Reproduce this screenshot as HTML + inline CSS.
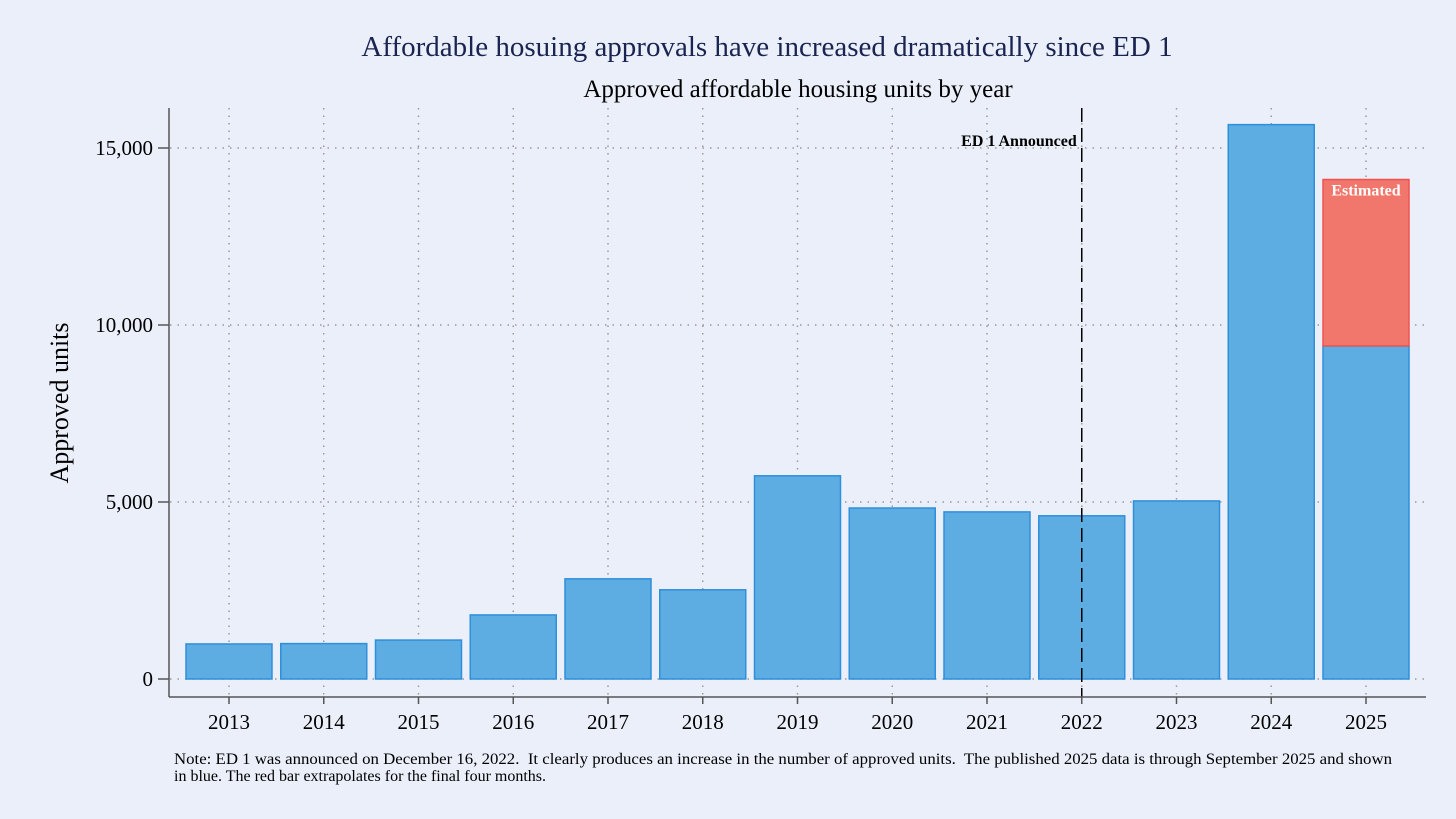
<!DOCTYPE html>
<html><head><meta charset="utf-8">
<style>
body{margin:0;background:#eaeffa;}
svg{display:block;font-family:"Liberation Serif",serif;}
.pre{white-space:pre;}
</style></head>
<body>
<svg id="chart" width="1456" height="819" viewBox="0 0 1456 819" xmlns="http://www.w3.org/2000/svg">
<rect width="1456" height="819" fill="#eaeffa"/>
<text x="767" y="56" text-anchor="middle" font-size="29" fill="#1a2450">Affordable hosuing approvals have increased dramatically since ED 1</text>
<text x="798" y="97" text-anchor="middle" font-size="25" fill="#000">Approved affordable housing units by year</text>
<text transform="translate(68,403) rotate(-90)" text-anchor="middle" font-size="26" fill="#000">Approved units</text>
<g id="grid"></g>
<g id="bars"></g>
<g id="axes"></g>
<text class="pre" x="174" y="764" font-size="16" textLength="1218" lengthAdjust="spacingAndGlyphs" fill="#000">Note: ED 1 was announced on December 16, 2022.  It clearly produces an increase in the number of approved units.  The published 2025 data is through September 2025 and shown</text>
<text class="pre" x="174" y="781" font-size="16" fill="#000">in blue. The red bar extrapolates for the final four months.</text>
</svg>
<script>
const years = ["2013","2014","2015","2016","2017","2018","2019","2020","2021","2022","2023","2024","2025"];
const approved = [990, 1000, 1100, 1810, 2830, 2520, 5740, 4830, 4720, 4610, 5030, 15660, 9410];
const estimatedExtra = [0,0,0,0,0,0,0,0,0,0,0,0,4700];
const yTicks = [0, 5000, 10000, 15000];
const yTickLabels = ["0","5,000","10,000","15,000"];
const announceYear = "2022";

const NS="http://www.w3.org/2000/svg";
const x0=229, step=94.75, barW=86;
const xPos = i => x0 + i*step;
const yPos = v => 679 - v*(679-148)/15000;
function mk(tag, attrs, parent){const e=document.createElementNS(NS,tag);for(const k in attrs)e.setAttribute(k,attrs[k]);parent.appendChild(e);return e;}
const grid=document.getElementById('grid'), bars=document.getElementById('bars'), axes=document.getElementById('axes');

yTicks.forEach((t,i)=>{
  const l=mk('line',{x1:170,x2:1426,y1:yPos(t),y2:yPos(t),stroke:'#9a9a9a','stroke-width':1.5,'stroke-dasharray':'1.5 6'},grid);
  
  
  const tk=mk('line',{x1:158,x2:169,y1:yPos(t),y2:yPos(t),stroke:'#555','stroke-width':1.5},axes);
  
  
  const tx=mk('text',{x:153,y:yPos(t)+7,'text-anchor':'end','font-size':21,fill:'#000'},axes);
  tx.textContent=yTickLabels[i];
  
  
});
years.forEach((y,i)=>{
  const l=mk('line',{x1:xPos(i),x2:xPos(i),y1:108,y2:697,stroke:'#9a9a9a','stroke-width':1.5,'stroke-dasharray':'1.5 6'},grid);
  
  
});
years.forEach((y,i)=>{
  const cx=xPos(i);
  const b=mk('rect',{x:cx-barW/2,y:yPos(approved[i]),width:barW,height:yPos(0)-yPos(approved[i]),fill:'#5dade2',stroke:'#2e8fdb','stroke-width':1.5},bars);
  
  
  if(estimatedExtra[i]>0){
    const top=approved[i]+estimatedExtra[i];
    const r=mk('rect',{x:cx-barW/2,y:yPos(top),width:barW,height:yPos(approved[i])-yPos(top),fill:'#f1766b',stroke:'#ef5350','stroke-width':1.5},bars);
    
    
    const t=mk('text',{x:cx,y:yPos(top)+16,'text-anchor':'middle','font-size':16,'font-weight':'bold',fill:'#fff'},bars);
    t.textContent='Estimated';
    
    
  }
  const tk=mk('line',{x1:cx,x2:cx,y1:697,y2:704,stroke:'#555','stroke-width':1.5},axes);
  
  
  const tx=mk('text',{x:cx,y:729,'text-anchor':'middle','font-size':21,fill:'#000'},axes);
  tx.textContent=y;
  
  
});
const ai=years.indexOf(announceYear), ax=xPos(ai);
const dl=mk('line',{x1:ax,x2:ax,y1:108,y2:697,stroke:'#000','stroke-width':1.5,'stroke-dasharray':'14 6'},axes);


const at=mk('text',{x:ax-5,y:146,'text-anchor':'end','font-size':16,'font-weight':'bold',fill:'#000'},axes);
at.textContent='ED 1 Announced';


const ya=mk('line',{x1:169,x2:169,y1:108,y2:697,stroke:'#555','stroke-width':1.5},axes);


const xa=mk('line',{x1:169,x2:1426,y1:697,y2:697,stroke:'#555','stroke-width':1.5},axes);


</script>
</body></html>
